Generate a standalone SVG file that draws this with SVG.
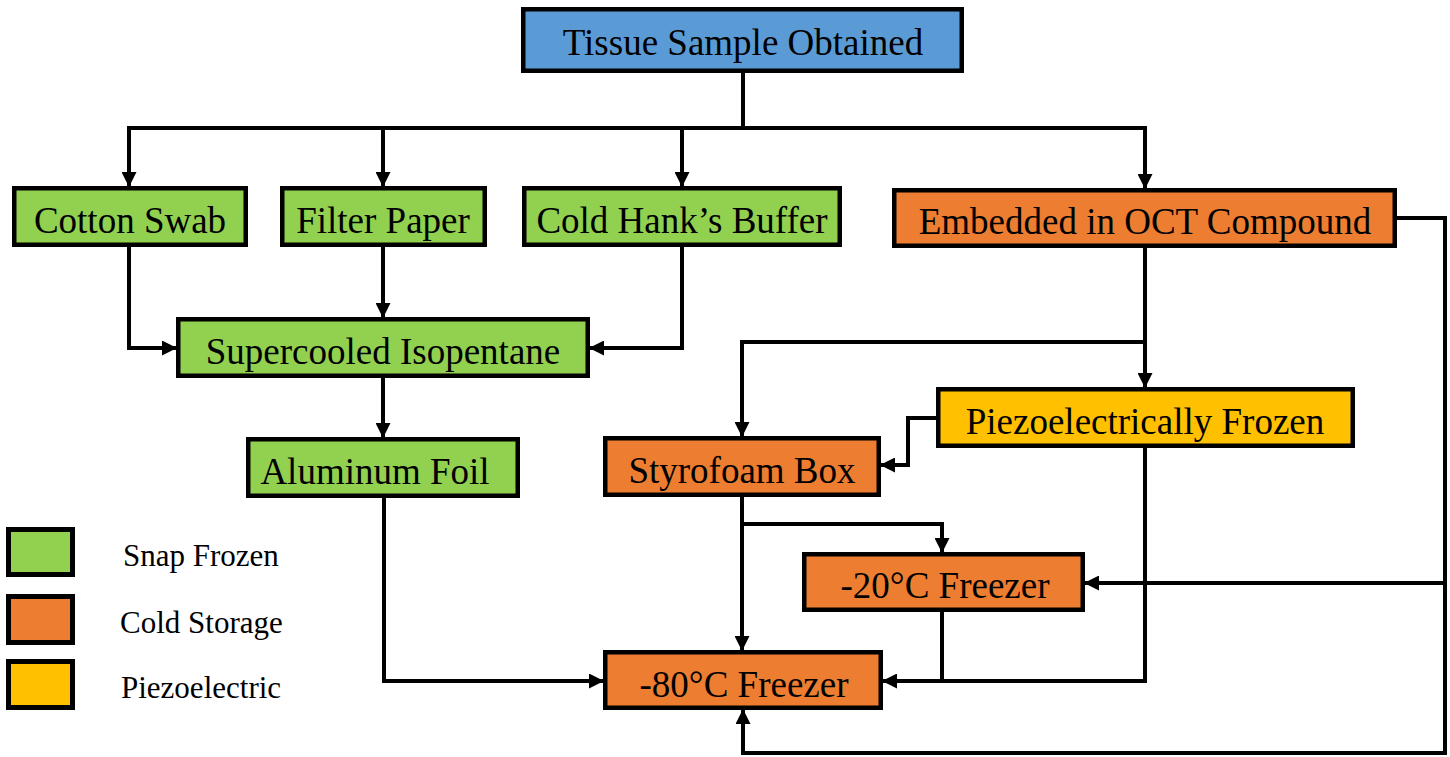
<svg xmlns="http://www.w3.org/2000/svg" width="1450" height="757" viewBox="0 0 1450 757">
<style>
.box{stroke:#000;stroke-width:4.5}
.blue{fill:#5B9BD5}.green{fill:#92D050}.orange{fill:#ED7D31}.yellow{fill:#FFC000}
.t{font-family:"Liberation Serif","Times New Roman",serif;font-size:37px;fill:#000;text-anchor:middle}
.lt{font-family:"Liberation Serif","Times New Roman",serif;font-size:31px;fill:#000}
.c{fill:none;stroke:#000;stroke-width:4;stroke-linejoin:miter}
.leg{stroke:#000;stroke-width:5}
</style>
<defs>
<marker id="ah" markerUnits="userSpaceOnUse" markerWidth="15" markerHeight="15" viewBox="0 0 15 15" refX="14" refY="7.5" orient="auto">
<path d="M0,0 L15,7.5 L0,15 z" fill="#000"/>
</marker>
</defs>
<rect width="1450" height="757" fill="#fff"/>
<g id="connectors">
<path class="c" d="M743,73 V128"/>
<path class="c" d="M743,128 H129 V186" marker-end="url(#ah)"/>
<path class="c" d="M383,128 V186" marker-end="url(#ah)"/>
<path class="c" d="M682,128 V186" marker-end="url(#ah)"/>
<path class="c" d="M743,128 H1145 V188" marker-end="url(#ah)"/>
<path class="c" d="M129,247 V348 H176" marker-end="url(#ah)"/>
<path class="c" d="M383,247 V317" marker-end="url(#ah)"/>
<path class="c" d="M682,247 V348 H590" marker-end="url(#ah)"/>
<path class="c" d="M383,378 V437" marker-end="url(#ah)"/>
<path class="c" d="M384,498 V681 H603" marker-end="url(#ah)"/>
<path class="c" d="M1145,248 V387" marker-end="url(#ah)"/>
<path class="c" d="M1145,342 H742 V436" marker-end="url(#ah)"/>
<path class="c" d="M936,418 H908 V465 H881" marker-end="url(#ah)"/>
<path class="c" d="M742,497 V650" marker-end="url(#ah)"/>
<path class="c" d="M742,524 H942 V552" marker-end="url(#ah)"/>
<path class="c" d="M942,612 V681 H883" marker-end="url(#ah)"/>
<path class="c" d="M1145,448 V681 H942"/>
<path class="c" d="M1397,218 H1445 V583 H1085" marker-end="url(#ah)"/>
<path class="c" d="M1445,583 V753 H743 V710" marker-end="url(#ah)"/>
</g>
<g id="tissue"><rect class="box blue" x="523.25" y="9.25" width="438.5" height="61.5"/><text class="t" x="743" y="55">Tissue Sample Obtained</text></g>
<g id="cotton"><rect class="box green" x="14.25" y="188.25" width="231.5" height="56.5"/><text class="t" x="130" y="233">Cotton Swab</text></g>
<g id="filter"><rect class="box green" x="282.25" y="188.25" width="202.5" height="56.5"/><text class="t" x="383" y="233">Filter Paper</text></g>
<g id="hank"><rect class="box green" x="524.25" y="188.25" width="315.5" height="56.5"/><text class="t" x="682" y="233">Cold Hank’s Buffer</text></g>
<g id="embedded"><rect class="box orange" x="894.25" y="190.25" width="500.5" height="55.5"/><text class="t" x="1145" y="234">Embedded in OCT Compound</text></g>
<g id="supercooled"><rect class="box green" x="178.25" y="319.25" width="409.5" height="56.5"/><text class="t" x="383" y="364">Supercooled Isopentane</text></g>
<g id="aluminum"><rect class="box green" x="248.25" y="439.25" width="269.5" height="56.5"/><text class="t" x="375" y="484">Aluminum Foil</text></g>
<g id="piezo"><rect class="box yellow" x="938.25" y="389.25" width="414.5" height="56.5"/><text class="t" x="1145" y="434">Piezoelectrically Frozen</text></g>
<g id="styrofoam"><rect class="box orange" x="605.25" y="438.25" width="273.5" height="56.5"/><text class="t" x="742" y="483">Styrofoam Box</text></g>
<g id="freezer20"><rect class="box orange" x="804.25" y="554.25" width="278.5" height="55.5"/><text class="t" x="945" y="598">-20°C Freezer</text></g>
<g id="freezer80"><rect class="box orange" x="605.25" y="652.25" width="275.5" height="55.5"/><text class="t" x="744" y="697">-80°C Freezer</text></g>
<g id="legend">
<rect class="leg green" x="8.5" y="529.5" width="64" height="45"/>
<rect class="leg orange" x="8.5" y="596.5" width="64" height="46"/>
<rect class="leg yellow" x="8.5" y="661.5" width="64" height="46"/>
<text class="lt" x="123" y="566">Snap Frozen</text>
<text class="lt" x="120" y="633">Cold Storage</text>
<text class="lt" x="121" y="698">Piezoelectric</text>
</g>
</svg>
